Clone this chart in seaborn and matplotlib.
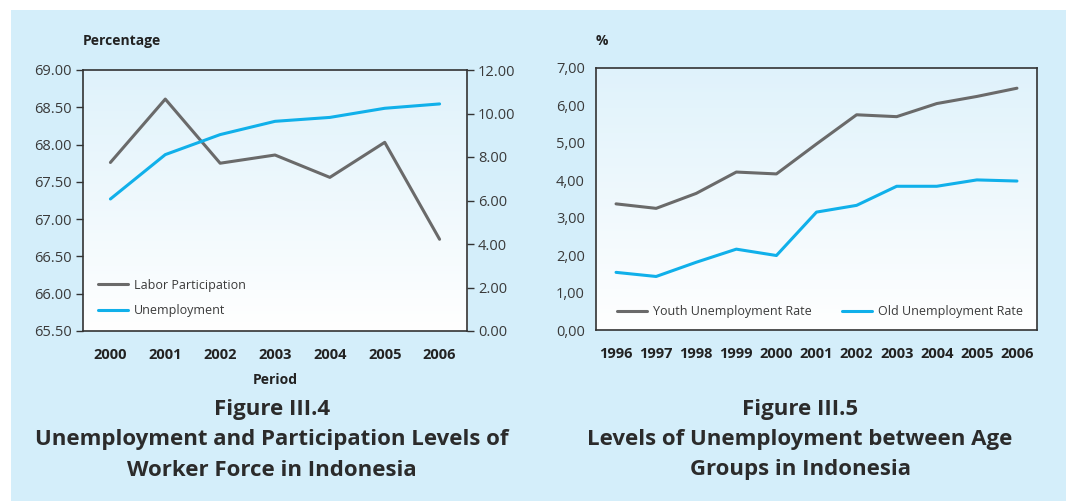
import numpy as np
import pandas as pd
import matplotlib
matplotlib.use("Agg")
import matplotlib.pyplot as plt
import seaborn as sns
from matplotlib.patches import Rectangle
from matplotlib.ticker import FixedLocator, FuncFormatter
from matplotlib.colors import LinearSegmentedColormap

# ---------------- data ----------------
years_left = ["2000", "2001", "2002", "2003", "2004", "2005", "2006"]
labor_participation = [67.76, 68.61, 67.75, 67.86, 67.56, 68.03, 66.73]
unemployment = [6.07, 8.11, 9.03, 9.64, 9.82, 10.24, 10.44]

years_right = ["1996", "1997", "1998", "1999", "2000", "2001",
               "2002", "2003", "2004", "2005", "2006"]
youth_rate = [3.37, 3.25, 3.65, 4.22, 4.17, 4.97, 5.75, 5.70, 6.05, 6.24, 6.46]
old_rate = [1.54, 1.43, 1.81, 2.16, 1.99, 3.15, 3.33, 3.84, 3.84, 4.01, 3.98]

left_yticks = [65.5, 66.0, 66.5, 67.0, 67.5, 68.0, 68.5, 69.0]
left_y2ticks = [0, 2, 4, 6, 8, 10, 12]
right_yticks = [0, 1, 2, 3, 4, 5, 6, 7]

# ---------------- style ----------------
sns.set_theme(style="white")
plt.rcParams["font.family"] = ["Open Sans", "DejaVu Sans"]

GREY = "#6a6a6a"
BLUE = "#10b0ea"
BG = "#d4eefa"
TXT = "#3a3a3a"
DARK = "#222222"

fig = plt.figure(figsize=(10.66, 5.01), dpi=100)
fig.patch.set_facecolor("white")
fig.patches.append(Rectangle((11 / 1066, 0), 1 - 11 / 1066, 1 - 10 / 501,
                             transform=fig.transFigure, facecolor=BG,
                             edgecolor="none", zorder=-10))

cmap = LinearSegmentedColormap.from_list("grad", ["#ffffff", "#dff2fb"])


def gradient(ax):
    grad = np.linspace(0, 1, 256).reshape(-1, 1)
    ax.imshow(grad, aspect="auto", cmap=cmap, origin="lower",
              extent=[0, 1, 0, 1], transform=ax.transAxes, zorder=-5)


def style_axes(ax, n):
    ax.set_xlim(-0.5, n - 0.5)
    ax.xaxis.set_major_locator(FixedLocator(list(range(n))))
    ax.xaxis.set_minor_locator(FixedLocator([i - 0.5 for i in range(n + 1)]))
    ax.tick_params(axis="x", which="major", length=0, pad=12,
                   labelsize=10.5, labelcolor=DARK)
    ax.tick_params(axis="x", which="minor", length=5, width=1,
                   color="#333333", direction="out")
    ax.tick_params(axis="y", length=5, width=1, color="#333333",
                   direction="out", labelsize=10.5, labelcolor=TXT, pad=3)
    for lab in ax.get_xticklabels():
        lab.set_fontweight("bold")
    for s in ax.spines.values():
        s.set_color("#333333")
        s.set_linewidth(1.2)
        s.set_visible(True)
    ax.grid(False)


# ---------------- left chart ----------------
axL = fig.add_axes([83 / 1066, 1 - 331 / 501, (467 - 83) / 1066, (331 - 70) / 501])
gradient(axL)
dfL = pd.DataFrame({"pos": np.arange(len(years_left)),
                    "Labor Participation": labor_participation,
                    "Unemployment": unemployment})
sns.lineplot(data=dfL, x="pos", y="Labor Participation", ax=axL,
             color=GREY, linewidth=2.2, label="Labor Participation", legend=False)
axL.set_ylim(65.5, 69.0)
axL.set_yticks(left_yticks)
axL.yaxis.set_major_formatter(FuncFormatter(lambda v, p: f"{v:.2f}"))
axL.set_xticks(range(len(years_left)))
axL.set_xticklabels(years_left)
style_axes(axL, len(years_left))
axL.set_xlabel("Period", fontsize=10, fontweight="bold", color=DARK, labelpad=8)
axL.set_ylabel("")

axL2 = axL.twinx()
sns.lineplot(data=dfL, x="pos", y="Unemployment", ax=axL2,
             color=BLUE, linewidth=2.2, label="Unemployment", legend=False)
axL2.set_ylim(0, 12)
axL2.set_yticks(left_y2ticks)
axL2.yaxis.set_major_formatter(FuncFormatter(lambda v, p: f"{v:.2f}"))
axL2.tick_params(axis="y", length=5, width=1, color="#333333",
                 direction="out", labelsize=10.5, labelcolor=TXT, pad=3)
axL2.set_ylabel("")
axL2.grid(False)
for s in axL2.spines.values():
    s.set_visible(False)

h1, l1 = axL.get_legend_handles_labels()
h2, l2 = axL2.get_legend_handles_labels()
axL.legend(h1 + h2, l1 + l2, loc="lower left", bbox_to_anchor=(0.026, 0.034),
           borderaxespad=0, frameon=False, fontsize=9, handlelength=2.4,
           handletextpad=0.5, labelspacing=1.0, labelcolor=TXT)

fig.text(83 / 1066, 1 - 41 / 501, "Percentage", fontsize=10, fontweight="bold",
         color=DARK, ha="left", va="center")

# ---------------- right chart ----------------
axR = fig.add_axes([596 / 1066, 1 - 330 / 501, (1037 - 596) / 1066, (330 - 68) / 501])
gradient(axR)
dfR = pd.DataFrame({"pos": np.arange(len(years_right)),
                    "Youth Unemployment Rate": youth_rate,
                    "Old Unemployment Rate": old_rate})
dfR_long = dfR.melt(id_vars="pos", var_name="series", value_name="rate")
sns.lineplot(data=dfR_long, x="pos", y="rate", hue="series", ax=axR,
             palette={"Youth Unemployment Rate": GREY, "Old Unemployment Rate": BLUE},
             linewidth=2.2)
axR.set_ylim(0, 7)
axR.set_yticks(right_yticks)
axR.yaxis.set_major_formatter(FuncFormatter(lambda v, p: f"{v:.2f}".replace(".", ",")))
axR.set_xticks(range(len(years_right)))
axR.set_xticklabels(years_right)
style_axes(axR, len(years_right))
axR.set_xlabel("")
axR.set_ylabel("")
axR.legend(loc="lower left", bbox_to_anchor=(0.036, 0.027), borderaxespad=0,
           ncol=2, frameon=False, fontsize=9, handlelength=2.4,
           handletextpad=0.5, columnspacing=2.4, labelcolor=TXT)

fig.text(602 / 1066, 1 - 41 / 501, "%", fontsize=10, fontweight="bold",
         color=DARK, ha="center", va="center")

# ---------------- captions ----------------
cap_kw = dict(fontsize=16, fontweight="bold", color="#2b2b2b", ha="center", va="center")
fig.text(272 / 1066, 1 - 410 / 501, "Figure III.4", **cap_kw)
fig.text(272 / 1066, 1 - 440 / 501, "Unemployment and Participation Levels of", **cap_kw)
fig.text(272 / 1066, 1 - 470 / 501, "Worker Force in Indonesia", **cap_kw)
fig.text(800 / 1066, 1 - 410 / 501, "Figure III.5", **cap_kw)
fig.text(800 / 1066, 1 - 440 / 501, "Levels of Unemployment between Age", **cap_kw)
fig.text(800 / 1066, 1 - 470 / 501, "Groups in Indonesia", **cap_kw)

fig.savefig("out.png", dpi=100, facecolor=fig.get_facecolor())
